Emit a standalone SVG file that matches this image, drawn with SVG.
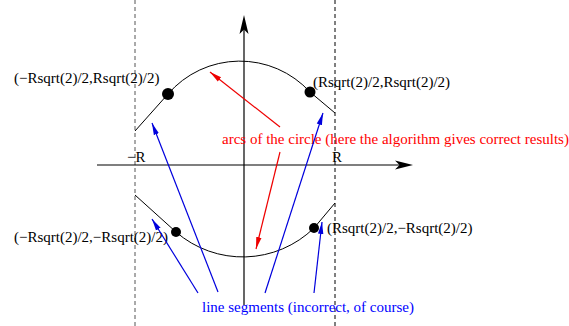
<svg xmlns="http://www.w3.org/2000/svg" width="569" height="326" viewBox="0 0 569 326">
<style>
.t{font-family:"Liberation Serif","Times New Roman",serif;font-size:15px;fill:#000}
.red{fill:#ff0000}
.blue{fill:#0000ff}
.dash{stroke:#000;stroke-width:1;stroke-dasharray:4 3;fill:none}
.gray{stroke:#555}
.curve{stroke:#000;stroke-width:1;fill:none}
.axis{stroke:#000;stroke-width:1.2;fill:none}
.ra{stroke:#ee0000;stroke-width:1.2;fill:none;marker-end:url(#rh)}
.ba{stroke:#0000dd;stroke-width:1.2;fill:none;marker-end:url(#bh)}
</style>
<defs>
<marker id="rh" markerUnits="userSpaceOnUse" markerWidth="14" markerHeight="8" refX="12" refY="4" orient="auto">
<path d="M0,1.3 L12,4 L0,6.7 Z" fill="#ee0000"/>
</marker>
<marker id="bh" markerUnits="userSpaceOnUse" markerWidth="14" markerHeight="8" refX="12" refY="4" orient="auto">
<path d="M0,1.3 L12,4 L0,6.7 Z" fill="#0000dd"/>
</marker>
</defs>
<rect width="569" height="326" fill="#fff"/>
<g id="guides">
<line class="dash gray" x1="135" y1="0" x2="135" y2="326"/>
<line class="dash" x1="335" y1="0" x2="335" y2="326"/>
</g>
<g id="axes">
<line class="axis" x1="97" y1="165" x2="400" y2="165"/>
<path d="M413,165 L395,160.5 L399.5,165 L395,169.5 Z" fill="#000"/>
<line class="axis" x1="244" y1="305" x2="244" y2="28"/>
<path d="M244,15 L239.5,34 L244,29.5 L248.5,34 Z" fill="#000"/>
<text class="t" x="127" y="162">−R</text>
<text class="t" x="332" y="162">R</text>
</g>
<g id="upper-curve">
<path class="curve" d="M135,131 L168,94 A95,95 0 0 1 310,92 L335,113"/>
<circle cx="168" cy="94" r="6" fill="#000"/>
<circle cx="310" cy="92" r="5.5" fill="#000"/>
</g>
<g id="lower-curve">
<path class="curve" d="M135,195 L176,232 A102,102 0 0 0 314,228 L335,203"/>
<circle cx="176" cy="232" r="5" fill="#000"/>
<circle cx="314" cy="228" r="5" fill="#000"/>
</g>
<g id="label-tl"><text class="t" x="14" y="83">(−Rsqrt(2)/2,Rsqrt(2)/2)</text></g>
<g id="label-tr"><text class="t" x="313" y="87">(Rsqrt(2)/2,Rsqrt(2)/2)</text></g>
<g id="label-bl"><text class="t" x="14" y="242">(−Rsqrt(2)/2,−Rsqrt(2)/2)</text></g>
<g id="label-br"><text class="t" x="327" y="233">(Rsqrt(2)/2,−Rsqrt(2)/2)</text></g>
<g id="arcs-note"><text class="t red" x="222" y="144">arcs of the circle (here the algorithm gives correct results)</text></g>
<g id="segments-note"><text class="t blue" x="202" y="312">line segments (incorrect, of course)</text></g>
<g id="connectors">
<line class="ra" x1="280" y1="127" x2="210" y2="72"/>
<line class="ra" x1="280" y1="152" x2="256" y2="249"/>
<line class="ba" x1="218" y1="292" x2="152" y2="123"/>
<line class="ba" x1="198" y1="293" x2="152" y2="219"/>
<line class="ba" x1="265" y1="293" x2="323" y2="113"/>
<line class="ba" x1="314" y1="293" x2="322" y2="222"/>
</g>
</svg>
